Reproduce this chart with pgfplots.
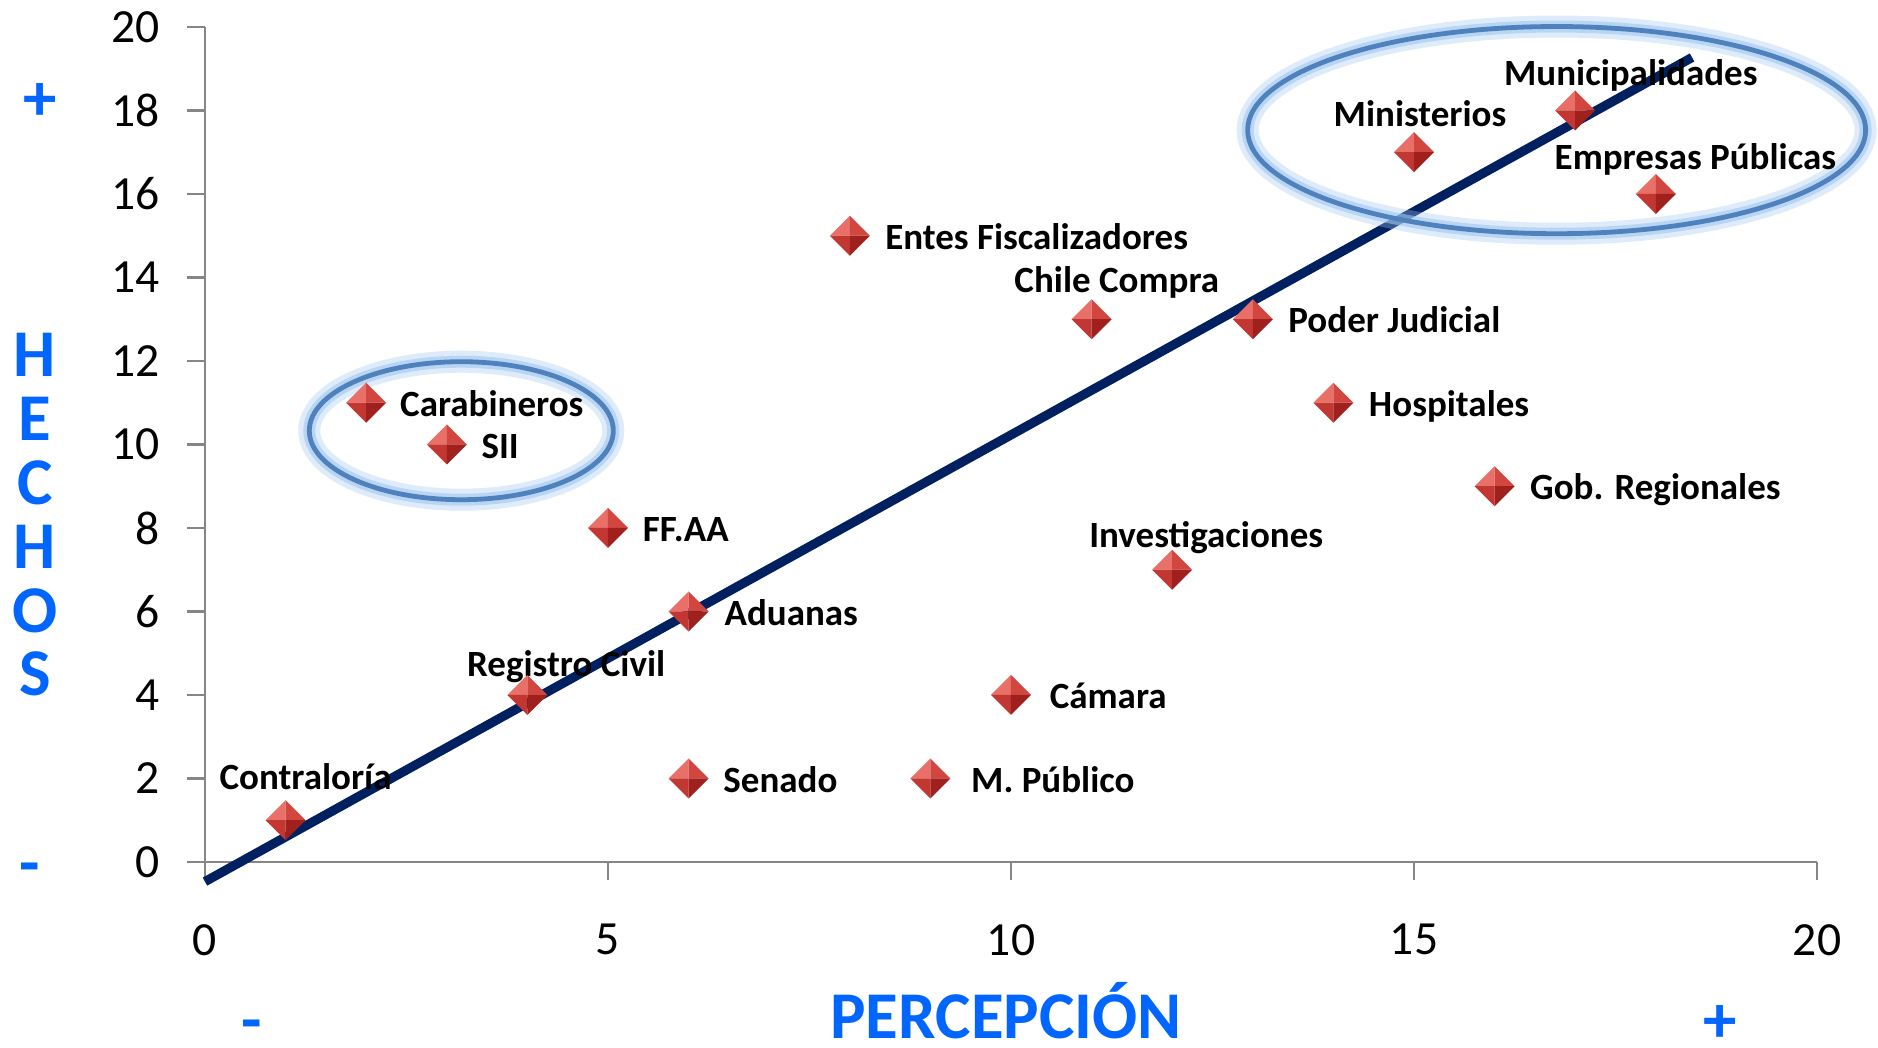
\documentclass[border=0pt]{standalone}
\usepackage{pgfplots}
\pgfplotsset{compat=1.18}
\usepackage{fontspec}
\setmainfont{Carlito}
\definecolor{hblue}{RGB}{0,102,255}
\definecolor{navy}{RGB}{0,32,96}
\definecolor{ellblue}{RGB}{79,129,189}
\definecolor{glowblue}{RGB}{160,198,240}
\definecolor{axgray}{RGB}{134,134,134}
\definecolor{dUL}{RGB}{232,112,104}
\definecolor{dUR}{RGB}{210,70,64}
\definecolor{dLL}{RGB}{195,55,50}
\definecolor{dLR}{RGB}{160,32,30}
\pgfdeclareplotmark{facetdiamond}{%
  \pgfsetfillcolor{dUL}%
  \pgfpathmoveto{\pgfqpoint{0pt}{0pt}}%
  \pgfpathlineto{\pgfqpoint{-\pgfplotmarksize}{0pt}}%
  \pgfpathlineto{\pgfqpoint{0pt}{\pgfplotmarksize}}%
  \pgfpathclose\pgfusepathqfill
  \pgfsetfillcolor{dUR}%
  \pgfpathmoveto{\pgfqpoint{0pt}{0pt}}%
  \pgfpathlineto{\pgfqpoint{0pt}{\pgfplotmarksize}}%
  \pgfpathlineto{\pgfqpoint{\pgfplotmarksize}{0pt}}%
  \pgfpathclose\pgfusepathqfill
  \pgfsetfillcolor{dLL}%
  \pgfpathmoveto{\pgfqpoint{0pt}{0pt}}%
  \pgfpathlineto{\pgfqpoint{-\pgfplotmarksize}{0pt}}%
  \pgfpathlineto{\pgfqpoint{0pt}{-\pgfplotmarksize}}%
  \pgfpathclose\pgfusepathqfill
  \pgfsetfillcolor{dLR}%
  \pgfpathmoveto{\pgfqpoint{0pt}{0pt}}%
  \pgfpathlineto{\pgfqpoint{0pt}{-\pgfplotmarksize}}%
  \pgfpathlineto{\pgfqpoint{\pgfplotmarksize}{0pt}}%
  \pgfpathclose\pgfusepathqfill
}
\pgfplotstableread{
x y
1 1
2 11
3 10
4 4
5 8
6 6
6 2
8 15
9 2
10 4
11 13
12 7
13 13
14 11
16 9
15 17
17 18
18 16
}\datos
\begin{document}
\begin{tikzpicture}[
  lab/.style={font=\fontsize{9.25}{11}\selectfont\bfseries, inner sep=0pt, text=black},
  big/.style={font=\fontsize{16.7}{17}\selectfont\bfseries, inner sep=0pt, text=hblue}]
\begin{axis}[
  scale only axis, width=403pt, height=208.75pt,
  at={(0,0)}, anchor=south west,
  xmin=0, xmax=20, ymin=0, ymax=20,
  xtick={0,5,10,15,20}, ytick={0,2,4,6,8,10,12,14,16,18,20},
  axis x line*=bottom, axis y line*=left,
  axis line style={axgray, line width=0.55pt, -},
  tick style={axgray, line width=0.55pt},
  tick align=outside, major tick length=4.5pt,
  ticklabel style={font=\fontsize{11.9}{13}\selectfont, text=black},
  /pgf/number format/assume math mode=true,
  xticklabel style={yshift=-7.5pt},
  yticklabel style={xshift=-3.2pt},
  clip=false,
]
\addplot[only marks, mark=facetdiamond, mark size=5pt] table {\datos};
\addplot[navy, line width=2.3pt, mark=none] coordinates {(0,-0.47) (18.45,19.27)};
% ellipses with glow
\draw[glowblue, opacity=0.35, line width=5.5pt] (axis cs:16.77,17.53) ellipse [x radius=77.25pt, y radius=25.9pt];
\draw[glowblue, opacity=0.6, line width=3pt] (axis cs:16.77,17.53) ellipse [x radius=77.25pt, y radius=25.9pt];
\draw[ellblue, line width=1.2pt] (axis cs:16.77,17.53) ellipse [x radius=77.25pt, y radius=25.9pt];
\draw[glowblue, opacity=0.35, line width=5.5pt] (axis cs:3.18,10.33) ellipse [x radius=38pt, y radius=17.25pt];
\draw[glowblue, opacity=0.6, line width=3pt] (axis cs:3.18,10.33) ellipse [x radius=38pt, y radius=17.25pt];
\draw[ellblue, line width=1.2pt] (axis cs:3.18,10.33) ellipse [x radius=38pt, y radius=17.25pt];
% right labels
\node[lab, anchor=base west, xshift=8.3pt, yshift=-3.4pt] at (axis cs:2,11) {Carabineros};
\node[lab, anchor=base west, xshift=8.5pt, yshift=-3.4pt] at (axis cs:3,10) {SII};
\node[lab, anchor=base west, xshift=8.5pt, yshift=-3.4pt] at (axis cs:5,8) {FF.AA};
\node[lab, anchor=base west, xshift=8.8pt, yshift=-3.4pt] at (axis cs:6,6) {Aduanas};
\node[lab, anchor=base west, xshift=8.5pt, yshift=-3.4pt] at (axis cs:6,2) {Senado};
\node[lab, anchor=base west, xshift=8.7pt, yshift=-3.4pt] at (axis cs:8,15) {Entes Fiscalizadores};
\node[lab, anchor=base west, xshift=10pt, yshift=-3.4pt] at (axis cs:9,2) {M. Público};
\node[lab, anchor=base west, xshift=9.5pt, yshift=-3.4pt] at (axis cs:10,4) {Cámara};
\node[lab, anchor=base west, xshift=8.7pt, yshift=-3.4pt] at (axis cs:13,13) {Poder Judicial};
\node[lab, anchor=base west, xshift=8.7pt, yshift=-3.4pt] at (axis cs:14,11) {Hospitales};
\node[lab, anchor=base west, xshift=8.7pt, yshift=-3.4pt] at (axis cs:16,9) {Gob. Regionales};
% above labels
\node[lab, anchor=base, xshift=5pt, yshift=7.7pt] at (axis cs:1,1) {Contraloría};
\node[lab, anchor=base, xshift=9.7pt, yshift=4.5pt] at (axis cs:4,4) {Registro Civil};
\node[lab, anchor=base, xshift=6.3pt, yshift=6.6pt] at (axis cs:11,13) {Chile Compra};
\node[lab, anchor=base, xshift=8.5pt, yshift=5.6pt] at (axis cs:12,7) {Investigaciones};
\node[lab, anchor=base, xshift=1.5pt, yshift=6.5pt] at (axis cs:15,17) {Ministerios};
\node[lab, anchor=base, xshift=13.9pt, yshift=6.2pt] at (axis cs:17,18) {Municipalidades};
\node[lab, anchor=base, xshift=9.9pt, yshift=6.2pt] at (axis cs:18,16) {Empresas Públicas};
\end{axis}
% axis titles
\node[big] at (-42.5pt,126.75pt) {H};
\node[big] at (-42.5pt,110.75pt) {E};
\node[big] at (-42.5pt,94.75pt) {C};
\node[big] at (-42.5pt,78.75pt) {H};
\node[big] at (-42.5pt,62.75pt) {O};
\node[big] at (-42.5pt,47pt) {S};
\node[big] at (-41.25pt,190pt) {+};
\node[big] at (-43.75pt,-3.1pt) {-};
\node[big] at (11.75pt,-42.2pt) {-};
\node[big] at (378.75pt,-40.4pt) {+};
\node[big, anchor=base] at (200.25pt,-44.2pt) {PERCEPCIÓN};
\pgfresetboundingbox
\path[use as bounding box] (-51.25pt,-46.5pt) rectangle (418.25pt,215.5pt);
\end{tikzpicture}
\end{document}
